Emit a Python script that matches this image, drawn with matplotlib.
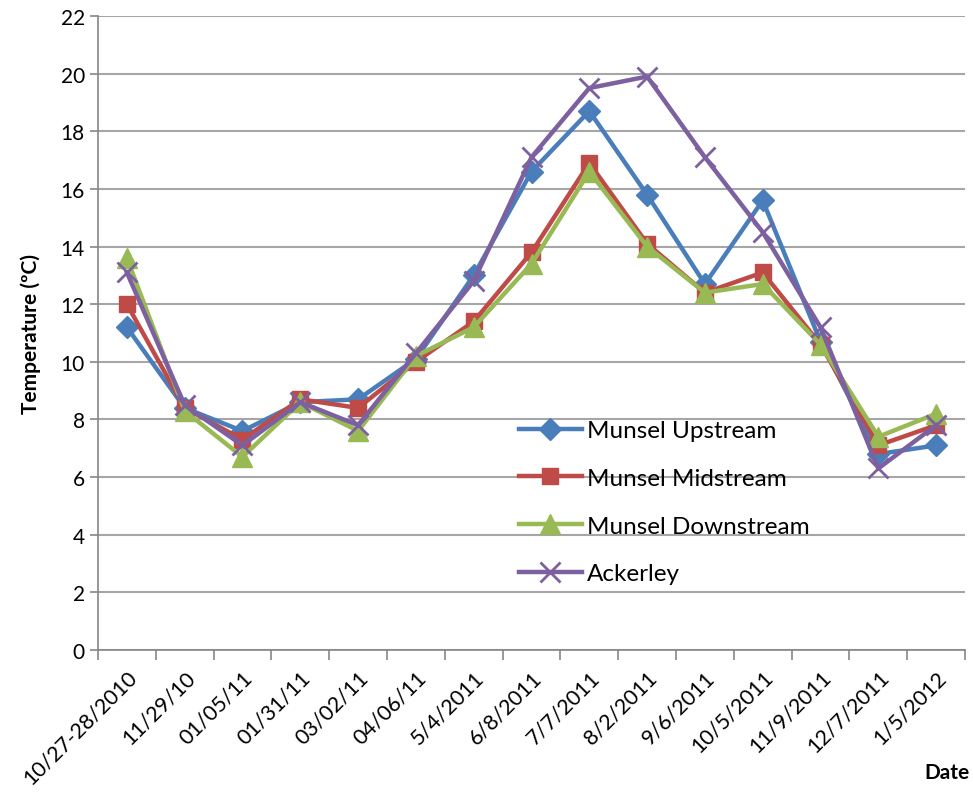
"""Stream temperature by sampling date, four sites."""
import matplotlib
matplotlib.use('Agg')
import matplotlib.pyplot as plt
import numpy as np

dates = ['10/27-28/2010', '11/29/10', '01/05/11', '01/31/11', '03/02/11',
         '04/06/11', '5/4/2011', '6/8/2011', '7/7/2011', '8/2/2011',
         '9/6/2011', '10/5/2011', '11/9/2011', '12/7/2011', '1/5/2012']

upstream = [11.2, 8.4, 7.6, 8.6, 8.7, 10.1, 13.0, 16.6, 18.7, 15.8, 12.7, 15.6, 10.7, 6.8, 7.1]
midstream = [12.0, 8.4, 7.3, 8.7, 8.4, 10.0, 11.4, 13.8, 16.9, 14.1, 12.4, 13.1, 10.6, 7.1, 7.8]
downstream = [13.6, 8.3, 6.7, 8.6, 7.6, 10.2, 11.2, 13.4, 16.6, 14.0, 12.4, 12.7, 10.6, 7.4, 8.2]
ackerley = [13.1, 8.5, 7.1, 8.6, 7.8, 10.3, 12.8, 17.1, 19.5, 19.9, 17.1, 14.5, 11.2, 6.3, 7.8]

plt.rcParams['font.family'] = ['Lato', 'DejaVu Sans']

fig = plt.figure(figsize=(9.73, 8.03), dpi=100)
ax = fig.add_axes([0.1007, 0.1893, 0.8911, 0.7895])

x = np.arange(len(dates))
ax.plot(x, upstream, color='#4A7EBB', lw=3.2, marker='D', ms=11, label='Munsel Upstream')
ax.plot(x, midstream, color='#BE4B48', lw=3.2, marker='s', ms=12, label='Munsel Midstream')
ax.plot(x, downstream, color='#98B954', lw=3.2, marker='^', ms=14, label='Munsel Downstream')
ax.plot(x, ackerley, color='#7D60A0', lw=3.2, marker='x', ms=14, mew=2, label='Ackerley')

ax.set_xlim(-0.5, len(dates) - 0.5)
ax.set_ylim(0, 22)
ax.set_yticks(range(0, 23, 2))
ax.tick_params(axis='y', labelsize=15, length=6, color='#868686', width=1.2)
ax.yaxis.grid(True, color='#A6A6A6', lw=1.5)
ax.set_axisbelow(True)

ax.set_xticks(x)
ax.set_xticklabels(dates, rotation=45, ha='right', rotation_mode='anchor', fontsize=15.5)
ax.set_xticks(np.arange(-0.5, len(dates)), minor=True)
ax.tick_params(axis='x', which='major', length=0, pad=12)
ax.tick_params(axis='x', which='minor', length=7, color='#868686', width=1.2)

for side in ['top', 'right']:
    ax.spines[side].set_visible(False)
for side in ['left', 'bottom']:
    ax.spines[side].set_color('#868686')
    ax.spines[side].set_linewidth(1.2)

ax.set_ylabel('Temperature (ºC)', fontsize=15, fontweight='bold', labelpad=14)
fig.text(0.997, 0.025, 'Date', ha='right', va='bottom', fontsize=15, fontweight='bold')

ax.legend(loc='upper left', bbox_to_anchor=(0.474, 0.378), frameon=False,
          fontsize=17.5, labelspacing=1.1, handlelength=2.6, handletextpad=0.2,
          borderaxespad=0)

fig.savefig('out.png', dpi=100)
